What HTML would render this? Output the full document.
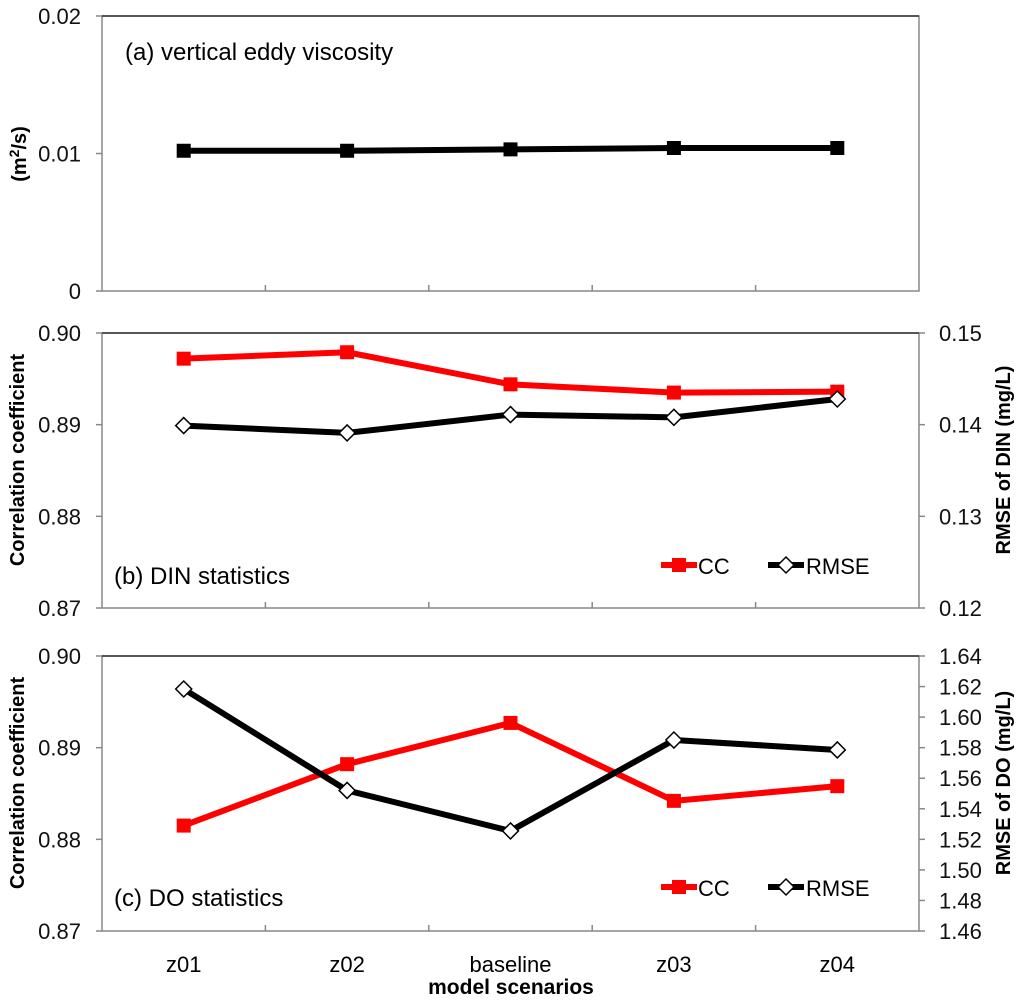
<!DOCTYPE html>
<html><head><meta charset="utf-8"><style>
html,body{margin:0;padding:0;background:#fff;}
svg{display:block;font-family:"Liberation Sans",Arial,sans-serif;}
</style></head><body>
<svg id="chart" width="1024" height="1001" viewBox="0 0 1024 1001" xmlns="http://www.w3.org/2000/svg"></svg>
<script>
const categories = ["z01","z02","baseline","z03","z04"];
const viscValues = [0.0102,0.0102,0.0103,0.0104,0.0104];
const viscTicks = ["0","0.01","0.02"];
const dinCC = [0.8972,0.8979,0.8944,0.8935,0.8936];
const dinRMSE = [0.1399,0.1391,0.1411,0.1408,0.1428];
const ccTicks = ["0.87","0.88","0.89","0.90"];
const dinRmseTicks = ["0.12","0.13","0.14","0.15"];
const doCC = [0.8815,0.8882,0.8927,0.8842,0.8858];
const doRMSE = [1.6184,1.5520,1.5255,1.5850,1.5785];
const doRmseTicks = ["1.46","1.48","1.50","1.52","1.54","1.56","1.58","1.60","1.62","1.64"];

const svg = document.getElementById('chart');
const NS = "http://www.w3.org/2000/svg";
function mk(tag, attrs, parent){
  const e = document.createElementNS(NS, tag);
  for (const k in attrs) e.setAttribute(k, attrs[k]);
  (parent||svg).appendChild(e);
  return e;
}
const L = 102, R = 919;
const xScale = i => L + (R-L)/categories.length*(i+0.5);
function yLin(min,max,top,bot){ return v => bot - (v-min)/(max-min)*(bot-top); }

function panel(name, top, bot, leftTicks, lmin, lmax, leftFmt, rightTicks, rmin, rmax){
  const g = mk('g',{});
  
  
  const box = mk('rect',{x:L,y:top,width:R-L,height:bot-top,fill:'none',stroke:'#888','stroke-width':1.5},g);
  
  
  mk('line',{x1:L,y1:top,x2:R,y2:top,stroke:'#333','stroke-width':1.5},g);
  const yl = yLin(lmin,lmax,top,bot);
  leftTicks.forEach(t=>{
    const y = yl(parseFloat(t));
    mk('line',{x1:L-6,y1:y,x2:L,y2:y,stroke:'#888','stroke-width':1.5},g);
    const tx = mk('text',{x:L-21,y:y+8,'text-anchor':'end','font-size':22,fill:'#111'},g);
    tx.textContent = t;
    
    
  });
  if (rightTicks){
    const yr = yLin(rmin,rmax,top,bot);
    rightTicks.forEach(t=>{
      const y = yr(parseFloat(t));
      mk('line',{x1:R,y1:y,x2:R+6,y2:y,stroke:'#888','stroke-width':1.5},g);
      const tx = mk('text',{x:R+20,y:y+8,'text-anchor':'start','font-size':22,fill:'#111'},g);
      tx.textContent = t;
      
      
    });
  }
  for (let i=1;i<categories.length;i++){
    const x = L + (R-L)/categories.length*i;
    mk('line',{x1:x,y1:bot,x2:x,y2:bot-6,stroke:'#888','stroke-width':1.5},g);
  }
  return g;
}

function series(g, name, vals, scale, color, marker){
  const pts = vals.map((v,i)=>[xScale(i), scale(v)]);
  const pl = mk('polyline',{points:pts.map(p=>p.join(',')).join(' '),fill:'none',stroke:color,'stroke-width':6,'stroke-linejoin':'round'},g);
  
  
  pts.forEach((p,i)=>{
    let m;
    if (marker==='square'){
      m = mk('rect',{x:p[0]-7,y:p[1]-7,width:14,height:14,fill:color},g);
    } else {
      m = mk('polygon',{points:`${p[0]},${p[1]-8} ${p[0]+8},${p[1]} ${p[0]},${p[1]+8} ${p[0]-8},${p[1]}`,fill:'#fff',stroke:'#000','stroke-width':1.5},g);
    }
    
    
  });
}

function legend(g, y){
  const l1 = mk('g',{},g);
  
  
  mk('line',{x1:661,y1:y,x2:697,y2:y,stroke:'#f00','stroke-width':6},l1);
  mk('rect',{x:672,y:y-7,width:14,height:14,fill:'#f00'},l1);
  const t1 = mk('text',{x:698,y:y+9,'font-size':22},l1); t1.textContent='CC';
  const l2 = mk('g',{},g);
  
  
  mk('line',{x1:768,y1:y,x2:804,y2:y,stroke:'#000','stroke-width':6},l2);
  mk('polygon',{points:`786,${y-8} 794,${y} 786,${y+8} 778,${y}`,fill:'#fff',stroke:'#000','stroke-width':1.5},l2);
  const t2 = mk('text',{x:806,y:y+9,'font-size':22},l2); t2.textContent='RMSE';
}

function label(txt, x, y, size, bold, rot, name){
  const t = mk('text',{x:x,y:y,'font-size':size,'text-anchor':'middle','font-weight':bold?'bold':'normal'});
  if (rot) t.setAttribute('transform',`rotate(-90 ${x} ${y})`);
  t.textContent = txt;
  
  
  return t;
}

// Panel a
const ga = panel('panel-a-viscosity', 16, 291, viscTicks, 0, 0.02);
series(ga, 'viscosity', viscValues, yLin(0,0.02,16,291), '#000', 'square');
const ta = mk('text',{x:125,y:60,'font-size':24},ga); ta.textContent='(a) vertical eddy viscosity';
 
const ya = mk('text',{x:26,y:154,'font-size':20,'font-weight':'bold','text-anchor':'middle',transform:'rotate(-90 26 154)'});
ya.innerHTML = '(m<tspan dy="-7" font-size="14">2</tspan><tspan dy="7">/s)</tspan>';
 

// Panel b
const gb = panel('panel-b-din', 333, 608, ccTicks, 0.87, 0.90, null, dinRmseTicks, 0.12, 0.15);
series(gb, 'din-cc', dinCC, yLin(0.87,0.90,333,608), '#f00', 'square');
series(gb, 'din-rmse', dinRMSE, yLin(0.12,0.15,333,608), '#000', 'diamond');
const tb = mk('text',{x:114,y:584,'font-size':24},gb); tb.textContent='(b) DIN statistics';
 
legend(gb, 565);
label('Correlation coefficient', 24, 460, 20, true, true, 'panel-b-left-axis-title');
label('RMSE of DIN (mg/L)', 1010, 460, 20, true, true, 'panel-b-right-axis-title');

// Panel c
const gc = panel('panel-c-do', 656, 931, ccTicks, 0.87, 0.90, null, doRmseTicks, 1.46, 1.64);
series(gc, 'do-cc', doCC, yLin(0.87,0.90,656,931), '#f00', 'square');
series(gc, 'do-rmse', doRMSE, yLin(1.46,1.64,656,931), '#000', 'diamond');
const tc = mk('text',{x:114,y:906,'font-size':24},gc); tc.textContent='(c) DO statistics';
 
legend(gc, 887);
label('Correlation coefficient', 24, 783, 20, true, true, 'panel-c-left-axis-title');
label('RMSE of DO (mg/L)', 1010, 783, 20, true, true, 'panel-c-right-axis-title');

// x labels
categories.forEach((c,i)=>{
  label(c, xScale(i), 972, 22, false, false, 'x-tick-label-'+c);
});
label('model scenarios', 511, 994, 21, true, false, 'x-axis-title');
</script>
</body></html>
